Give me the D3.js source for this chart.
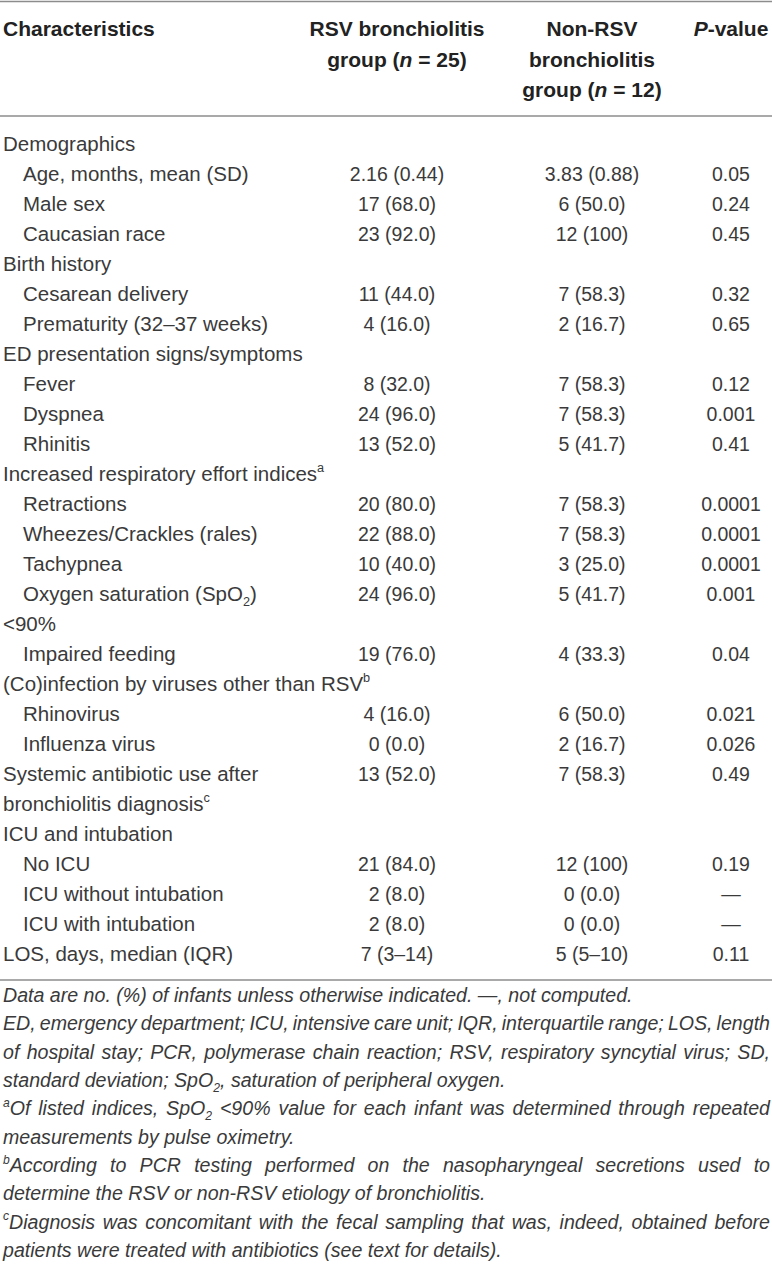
<!DOCTYPE html>
<html>
<head>
<meta charset="utf-8">
<script src="https://cdn.jsdelivr.net/npm/d3@7/dist/d3.min.js"></script>
<style>
  html, body { margin: 0; padding: 0; background: #ffffff; }
  svg { display: block; }
</style>
</head>
<body>
<svg id="chart"></svg>
<script>
// ---------------- DATA ----------------
const headerCols = [
  ["Characteristics"],
  ["RSV bronchiolitis", "group (*n* = 25)"],
  ["Non-RSV", "bronchiolitis", "group (*n* = 12)"],
  ["*P*-value"]
];

const characteristics = [
  "Demographics",
  "Age, months, mean (SD)",
  "Male sex",
  "Caucasian race",
  "Birth history",
  "Cesarean delivery",
  "Prematurity (32–37 weeks)",
  "ED presentation signs/symptoms",
  "Fever",
  "Dyspnea",
  "Rhinitis",
  "Increased respiratory effort indices^a",
  "Retractions",
  "Wheezes/Crackles (rales)",
  "Tachypnea",
  "Oxygen saturation (SpO_2)",
  "<90%",
  "Impaired feeding",
  "(Co)infection by viruses other than RSV^b",
  "Rhinovirus",
  "Influenza virus",
  "Systemic antibiotic use after",
  "bronchiolitis diagnosis^c",
  "ICU and intubation",
  "No ICU",
  "ICU without intubation",
  "ICU with intubation",
  "LOS, days, median (IQR)"
];

const indented = [0,1,1,1,0,1,1,0,1,1,1,0,1,1,1,1,0,1,0,1,1,0,0,0,1,1,1,0];

const rsvGroup = [
  "", "2.16 (0.44)", "17 (68.0)", "23 (92.0)", "", "11 (44.0)", "4 (16.0)", "",
  "8 (32.0)", "24 (96.0)", "13 (52.0)", "", "20 (80.0)", "22 (88.0)", "10 (40.0)",
  "24 (96.0)", "", "19 (76.0)", "", "4 (16.0)", "0 (0.0)", "13 (52.0)", "", "",
  "21 (84.0)", "2 (8.0)", "2 (8.0)", "7 (3–14)"
];

const nonRsvGroup = [
  "", "3.83 (0.88)", "6 (50.0)", "12 (100)", "", "7 (58.3)", "2 (16.7)", "",
  "7 (58.3)", "7 (58.3)", "5 (41.7)", "", "7 (58.3)", "7 (58.3)", "3 (25.0)",
  "5 (41.7)", "", "4 (33.3)", "", "6 (50.0)", "2 (16.7)", "7 (58.3)", "", "",
  "12 (100)", "0 (0.0)", "0 (0.0)", "5 (5–10)"
];

const pValues = [
  "", "0.05", "0.24", "0.45", "", "0.32", "0.65", "",
  "0.12", "0.001", "0.41", "", "0.0001", "0.0001", "0.0001",
  "0.001", "", "0.04", "", "0.021", "0.026", "0.49", "", "",
  "0.19", "—", "—", "0.11"
];

const footnoteLines = [
  "Data are no. (%) of infants unless otherwise indicated. —, not computed.",
  "ED, emergency department; ICU, intensive care unit; IQR, interquartile range; LOS, length",
  "of hospital stay; PCR, polymerase chain reaction; RSV, respiratory syncytial virus; SD,",
  "standard deviation; SpO_2, saturation of peripheral oxygen.",
  "^aOf listed indices, SpO_2 <90% value for each infant was determined through repeated",
  "measurements by pulse oximetry.",
  "^bAccording to PCR testing performed on the nasopharyngeal secretions used to",
  "determine the RSV or non-RSV etiology of bronchiolitis.",
  "^cDiagnosis was concomitant with the fecal sampling that was, indeed, obtained before",
  "patients were treated with antibiotics (see text for details)."
];
const footnoteJustify = [0,1,1,0,1,0,1,0,1,0];

// ---------------- LAYOUT ----------------
const W = 772, H = 1269;
const FONT = "'Liberation Sans', Arial, Helvetica, sans-serif";
const headFS = 21, labelFS = 20.5, valueFS = 19.5, noteFS = 19.6;
const textColor = "#3a3a3a", headColor = "#222222", ruleColor = "#8c8c8c";

const svg = d3.select("#chart").attr("width", W).attr("height", H)
  .attr("viewBox", `0 0 ${W} ${H}`);
svg.append("rect").attr("width", W).attr("height", H).attr("fill", "#fff");

const colX = d3.scaleOrdinal().domain([0,1,2,3]).range([3, 397, 592, 731]);
const headY = d3.scaleLinear().domain([0, 2]).range([36, 97]);
const rowY = d3.scaleLinear().domain([0, characteristics.length - 1]).range([150.7, 960.7]);
const noteY = d3.scaleLinear().domain([0, footnoteLines.length - 1]).range([1002, 1257]);
const indentX = d3.scaleOrdinal().domain([0,1]).range([3, 23]);

// rich text helper: *italic*, ^x superscript, _x subscript
function addRich(textSel, str, fs) {
  const segs = [];
  let italic = false, buf = "", i = 0;
  const flush = () => { if (buf) { segs.push({t: buf, type: "n", it: italic}); buf = ""; } };
  while (i < str.length) {
    const c = str[i];
    if (c === "*") { flush(); italic = !italic; i++; continue; }
    if (c === "^" || c === "_") { flush(); segs.push({t: str[i+1], type: c === "^" ? "sup" : "sub", it: italic}); i += 2; continue; }
    buf += c; i++;
  }
  flush();
  let shift = 0;
  segs.forEach(s => {
    const ts = textSel.append("tspan").text(s.t);
    if (s.it) ts.attr("font-style", "italic");
    const target = s.type === "sup" ? -fs * 0.42 : s.type === "sub" ? fs * 0.24 : 0;
    if (target !== shift) { ts.attr("dy", target - shift); shift = target; }
    if (s.type !== "n") ts.attr("font-size", fs * 0.62);
  });
}

// rules
const rules = [1.5, 116, 980];
svg.selectAll("line.rule").data(rules).join("line")
  .attr("class", "rule")
  .attr("x1", 0).attr("x2", W)
  .attr("y1", d => d).attr("y2", d => d)
  .attr("stroke", ruleColor).attr("stroke-width", 1.6);

// header
headerCols.forEach((lines, ci) => {
  lines.forEach((ln, li) => {
    const t = svg.append("text")
      .attr("x", colX(ci)).attr("y", headY(li))
      .attr("text-anchor", ci === 0 ? "start" : "middle")
      .attr("font-family", FONT).attr("font-size", headFS)
      .attr("font-weight", "bold").attr("fill", headColor);
    addRich(t, ln, headFS);
  });
});

// body rows
const rows = characteristics.map((c, i) => ({
  label: c, indent: indented[i], rsv: rsvGroup[i], non: nonRsvGroup[i], p: pValues[i], i
}));

const rowG = svg.append("g").selectAll("g.row").data(rows).join("g").attr("class", "row");
rowG.each(function(d) {
  const g = d3.select(this);
  const t = g.append("text")
    .attr("x", indentX(d.indent)).attr("y", rowY(d.i))
    .attr("font-family", FONT).attr("font-size", labelFS).attr("fill", textColor);
  addRich(t, d.label, labelFS);
  [[1, d.rsv], [2, d.non], [3, d.p]].forEach(([ci, v]) => {
    if (!v) return;
    g.append("text")
      .attr("x", colX(ci)).attr("y", rowY(d.i))
      .attr("text-anchor", "middle")
      .attr("font-family", FONT).attr("font-size", valueFS).attr("fill", textColor)
      .text(v);
  });
});

// footnotes
const noteLeft = 3, noteRight = 770;
footnoteLines.forEach((ln, i) => {
  const y = noteY(i);
  if (!footnoteJustify[i]) {
    const t = svg.append("text")
      .attr("x", noteLeft).attr("y", y)
      .attr("font-family", FONT).attr("font-size", noteFS)
      .attr("font-style", "italic").attr("fill", textColor);
    addRich(t, ln, noteFS);
    return;
  }
  const g = svg.append("g");
  const words = ln.split(" ");
  const nodes = words.map(w => {
    const t = g.append("text")
      .attr("x", 0).attr("y", y)
      .attr("font-family", FONT).attr("font-size", noteFS)
      .attr("font-style", "italic").attr("fill", textColor);
    addRich(t, w, noteFS);
    return t;
  });
  const widths = nodes.map(t => t.node().getComputedTextLength());
  const total = d3.sum(widths);
  const avail = noteRight - noteLeft;
  let gap = (avail - total) / (words.length - 1);
  let scale = 1;
  const minGap = 3;
  if (gap < minGap) { gap = minGap; scale = avail / (total + gap * (words.length - 1)); }
  let x = 0;
  nodes.forEach((t, k) => { t.attr("x", x); x += widths[k] + gap; });
  g.attr("transform", `translate(${noteLeft},0) scale(${scale},1)`);
});
</script>
</body>
</html>
